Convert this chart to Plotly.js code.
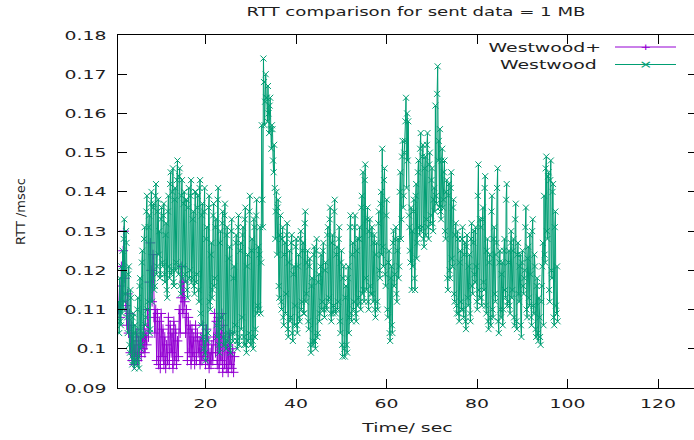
<!DOCTYPE html>
<html><head><meta charset="utf-8">
<script src="https://cdn.plot.ly/plotly-3.0.1.min.js"></script>
<style>html,body{margin:0;padding:0;overflow:hidden;background:#fff}#chart{width:700px;height:440px}</style>
</head><body><div id="chart"></div>
<script>
const chartTitle = 'RTT comparison for sent data = 1 MB';
const xTitle = 'Time/ sec';
const yTitle = 'RTT /msec';
const seriesNames = ['Westwood+', 'Westwood'];
const seriesColors = ['#9400d3', '#009e73'];

// Westwood+ : first sample time, sample interval (s), RTT values
const westwoodPlusStart = 0.8, westwoodPlusStep = 0.2;
const westwoodPlusRtt = [
.110,.116,.108,.121,.112, .125,.130,.118,.111,.106, .114,.104,.109,.099,.106,
.097,.103,.096,.101,.098, .104,.097,.102,.099,.105, .098,.103,.100,.106,.099,
.104,.101,.110,.103,.117, .127,.120,.112,.124,.108, .104,.110,.097,.109,.096,
.107,.095,.109,.098,.105, .096,.103,.095,.101,.097, .108,.096,.106,.099,.104,
.095,.107,.097,.105,.096, .102,.098,.110,.104,.113, .121,.109,.117,.112,.104,
.110,.097,.108,.099,.106, .096,.105,.098,.103,.096, .106,.097,.104,.099,.102,
.096,.103,.097,.106,.098, .101,.096,.105,.097,.102, .095,.099,.096,.101,.097,
.103,.109,.099,.107,.096, .108,.095,.104,.097,.109, .094,.106,.096,.103,.095,
.101,.094,.104,.096,.099, .095,.100,.094,.098
];

// Westwood : first sample time, sample interval (s), RTT values
const westwoodStart = 0.8, westwoodStep = 0.125;
const westwoodRtt = [
.112,.104,.118,.107,.106,.121,.109,.125, .110,.128,.133,.112,.114,.130,.127,.108,
.104,.119,.121,.101,.099,.115,.113,.098, .096,.108,.109,.097,.095,.106,.104,.096,
.097,.110,.113,.098,.095,.116,.118,.100, .101,.122,.125,.103,.104,.128,.131,.106,
.108,.135,.139,.110,.112,.131,.134,.104, .105,.137,.140,.112,.118,.136,.137,.115,
.116,.139,.142,.119,.121,.135,.138,.124, .130,.118,.119,.133,.136,.122,.121,.134,
.137,.119,.117,.129,.132,.115,.113,.135, .139,.121,.118,.142,.145,.119,.120,.140,
.146,.117,.116,.138,.141,.120,.122,.143, .148,.121,.119,.144,.146,.116,.114,.139,
.143,.118,.121,.137,.140,.119,.117,.138, .138,.115,.113,.136,.141,.118,.120,.139,
.143,.117,.118,.133,.135,.116,.114,.140, .140,.117,.119,.136,.139,.115,.112,.141,
.143,.109,.106,.134,.137,.103,.100,.135, .141,.099,.097,.128,.131,.102,.104,.136,
.139,.112,.110,.124,.127,.113,.115,.134, .137,.116,.118,.131,.133,.106,.103,.138,
.141,.101,.099,.127,.130,.105,.108,.132, .135,.103,.101,.134,.137,.102,.100,.129,
.131,.102,.104,.123,.126,.101,.099,.130, .133,.104,.102,.118,.121,.104,.106,.127,
.129,.102,.100,.131,.134,.101,.103,.125, .127,.105,.108,.129,.131,.103,.101,.133,
.136,.101,.099,.121,.124,.102,.104,.135, .139,.103,.101,.125,.128,.102,.100,.133,
.131,.103,.105,.134,.138,.109,.111,.126, .110,.124,.131,.109,.122,.157,.138,.131,
.174,.168,.157,.163,.170,.164,.164,.158, .167,.160,.155,.162,.164,.156,.151,.157,
.156,.148,.145,.152,.141,.128,.135,.140, .124,.136,.138,.116,.113,.129,.134,.112,
.110,.128,.131,.108,.106,.124,.127,.109, .114,.129,.132,.105,.103,.122,.125,.107,
.108,.127,.129,.104,.102,.119,.121,.106, .111,.126,.128,.106,.104,.121,.124,.108,
.107,.128,.130,.110,.112,.125,.127,.109, .109,.132,.135,.112,.114,.122,.125,.107,
.105,.121,.123,.101,.099,.116,.118,.102, .101,.124,.126,.102,.100,.125,.128,.103,
.104,.117,.119,.107,.109,.121,.124,.110, .112,.125,.127,.110,.108,.120,.122,.111,
.110,.129,.131,.112,.113,.133,.136,.109, .107,.127,.129,.109,.111,.135,.138,.110,
.109,.124,.126,.110,.112,.128,.131,.107, .104,.122,.125,.101,.098,.118,.121,.100,
.098,.113,.116,.101,.099,.118,.121,.104, .108,.131,.134,.109,.107,.124,.127,.110,
.112,.131,.134,.109,.107,.125,.128,.111, .113,.128,.131,.112,.110,.136,.139,.114,
.145,.115,.112,.143,.147,.118,.115,.133, .136,.112,.110,.130,.133,.116,.114,.129,
.131,.114,.112,.127,.129,.110,.108,.124, .127,.112,.110,.132,.135,.120,.118,.137,
.140,.124,.151,.126,.121,.143,.146,.119, .116,.134,.138,.110,.108,.122,.125,.104,
.102,.118,.121,.106,.104,.127,.130,.116, .119,.128,.131,.114,.112,.125,.128,.118,
.121,.140,.145,.128,.133,.149,.153,.136, .139,.150,.153,.158,.164,.141,.160,.148,
.158,.134,.131,.125,.122,.136,.115,.130, .121,.135,.138,.118,.115,.139,.142,.123,
.127,.145,.148,.131,.129,.151,.155,.130, .131,.149,.152,.128,.126,.146,.149,.129,
.133,.152,.155,.131,.128,.147,.150,.132, .134,.143,.146,.132,.130,.138,.141,.135,
.162,.139,.137,.165,.172,.148,.153,.136, .156,.135,.133,.148,.151,.136,.138,.145,
.148,.130,.128,.140,.143,.118,.115,.139, .142,.120,.118,.141,.145,.123,.121,.136,
.138,.114,.112,.129,.132,.111,.109,.130, .128,.109,.107,.122,.125,.112,.110,.128,
.131,.110,.108,.124,.127,.107,.105,.126, .129,.113,.111,.121,.124,.109,.107,.128,
.132,.116,.114,.127,.130,.119,.117,.131, .121,.112,.110,.139,.147,.115,.113,.133,
.131,.113,.111,.133,.136,.117,.115,.141, .144,.111,.109,.125,.128,.107,.105,.122,
.124,.108,.106,.135,.139,.110,.108,.128, .131,.114,.112,.124,.127,.141,.146,.107,
.104,.122,.125,.110,.108,.119,.122,.106, .110,.125,.128,.115,.113,.138,.142,.111,
.112,.122,.125,.111,.109,.127,.130,.113, .115,.125,.128,.108,.106,.133,.137,.107,
.105,.124,.127,.114,.112,.121,.124,.106, .103,.122,.125,.116,.114,.118,.120,.131,
.136,.110,.108,.123,.126,.113,.111,.129, .119,.108,.106,.130,.133,.111,.109,.124,
.121,.105,.103,.116,.118,.104,.102,.113, .108,.103,.101,.112,.116,.121,.127,.106,
.139,.124,.122,.146,.149,.130,.128,.144, .145,.115,.112,.143,.148,.120,.118,.140,
.142,.108,.106,.131,.135,.111,.109,.121, .107
];

const xTickVals = [20, 40, 60, 80, 100, 120];
const yTickVals = [0.09, 0.10, 0.11, 0.12, 0.13, 0.14, 0.15, 0.16, 0.17, 0.18];
const yTickText = ['0.09', '0.1', '0.11', '0.12', '0.13', '0.14', '0.15', '0.16', '0.17', '0.18'];

const FONT = 'DejaVu Sans, sans-serif';
const TXT = '#1e1e1e';
const STRETCH = 1.45;

function times(start, step, n) { const t = []; for (let i = 0; i < n; i++) t.push(+(start + i * step).toFixed(3)); return t; }

const traces = [
  { x: times(westwoodPlusStart, westwoodPlusStep, westwoodPlusRtt.length), y: westwoodPlusRtt,
    name: seriesNames[0], type: 'scatter', mode: 'lines+markers',
    line: { color: seriesColors[0], width: 1 },
    marker: { symbol: 'cross-thin', size: 7, color: seriesColors[0], line: { color: seriesColors[0], width: 1 } } },
  { x: times(westwoodStart, westwoodStep, westwoodRtt.length), y: westwoodRtt,
    name: seriesNames[1], type: 'scatter', mode: 'lines+markers',
    line: { color: seriesColors[1], width: 1 },
    marker: { symbol: 'x-thin', size: 6, color: seriesColors[1], line: { color: seriesColors[1], width: 1 } } }
];

const L = 118, R = 3, T = 35, B = 52, W = 700, H = 440;
const pw = W - L - R, ph = H - T - B;
const px = v => (v - L) / pw;
const py = v => (H - B - v) / ph;

const legendRows = [
  { name: seriesNames[0], color: seriesColors[0], cx: 544.5, y: 47, glyph: '+', gsize: 9 },
  { name: seriesNames[1], color: seriesColors[1], cx: 548.5, y: 64.5, glyph: '×', gsize: 11 }
];
const shapes = [], annotations = [];
legendRows.forEach(r => {
  shapes.push({ type: 'line', xref: 'paper', yref: 'paper', x0: px(615), x1: px(676), y0: py(r.y), y1: py(r.y), line: { color: r.color, width: 1 } });
  annotations.push({ xref: 'paper', yref: 'paper', x: px(r.cx), y: py(r.y), xanchor: 'center', yanchor: 'middle', showarrow: false, text: r.name, font: { family: FONT, size: 13, color: TXT } });
  annotations.push({ xref: 'paper', yref: 'paper', x: px(645.5), y: py(r.y), xanchor: 'center', yanchor: 'middle', showarrow: false, text: r.glyph, font: { family: FONT, size: r.gsize, color: r.color } });
});

const axisCommon = { showline: true, linecolor: '#000', linewidth: 1, mirror: 'ticks', ticks: 'inside', ticklen: 9, tickwidth: 1, tickcolor: '#000', showgrid: false, zeroline: false, automargin: false, tickfont: { family: FONT, size: 13, color: TXT } };

const layout = {
  width: W, height: H,
  margin: { l: L, r: R, t: T, b: B },
  paper_bgcolor: '#fff', plot_bgcolor: '#fff',
  showlegend: false,
  title: { text: chartTitle, font: { family: FONT, size: 12.5, color: TXT }, xref: 'container', x: 416 / W, xanchor: 'center', yref: 'container', y: 1 - 12 / H, yanchor: 'middle' },
  xaxis: Object.assign({}, axisCommon, { range: [0.66, 128.6], tickvals: xTickVals, ticklabelstandoff: 3,
    title: { text: xTitle, font: { family: FONT, size: 13, color: TXT }, standoff: 13 } }),
  yaxis: Object.assign({}, axisCommon, { range: [0.09, 0.18], tickvals: yTickVals, ticktext: yTickText, ticklabelstandoff: 8,
    title: { text: yTitle, font: { family: FONT, size: 13, color: TXT }, standoff: 48 } }),
  shapes: shapes, annotations: annotations
};

Plotly.newPlot('chart', traces, layout, { staticPlot: true, displayModeBar: false }).then(() => {
  document.querySelectorAll('#chart text').forEach(t => {
    if (t.classList.contains('ytitle')) return;
    const w = t.getComputedTextLength();
    if (w > 0) { t.setAttribute('textLength', (w * STRETCH).toFixed(1)); t.setAttribute('lengthAdjust', 'spacingAndGlyphs'); }
  });
});
</script>
</body></html>
